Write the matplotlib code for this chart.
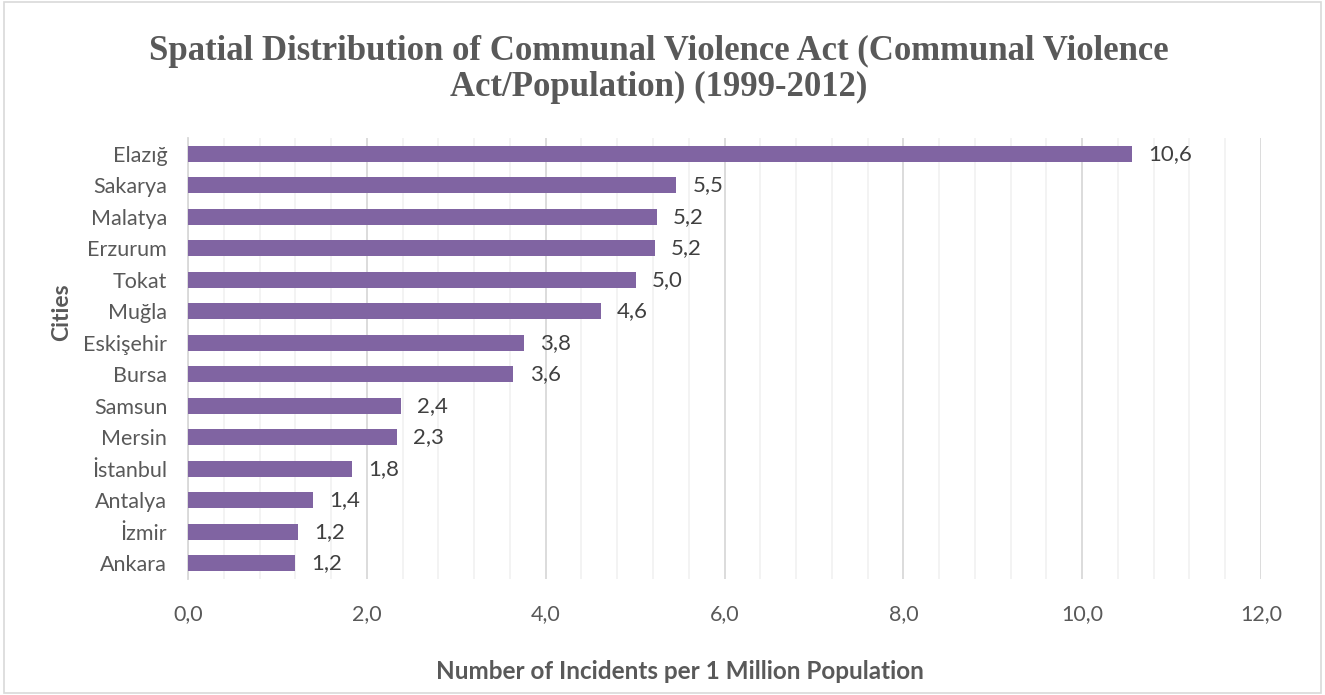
import matplotlib.pyplot as plt
from matplotlib.patches import Rectangle
from matplotlib.ticker import MultipleLocator, FuncFormatter

cities = ['Elazığ', 'Sakarya', 'Malatya', 'Erzurum', 'Tokat', 'Muğla', 'Eskişehir',
          'Bursa', 'Samsun', 'Mersin', 'İstanbul', 'Antalya', 'İzmir', 'Ankara']
values = [10.56, 5.46, 5.24, 5.22, 5.01, 4.62, 3.76, 3.64, 2.38, 2.34, 1.83, 1.40, 1.23, 1.20]

bar_color = '#8064A2'
text_gray = '#595959'
font = ['Lato', 'DejaVu Sans']

fig = plt.figure(figsize=(13.25, 6.95), dpi=100)
ax = fig.add_axes([0.1419, 0.1669, 0.8098, 0.6345])

# outer chart border
fig.patches.append(Rectangle((0.003, 0.003), 0.994, 0.994, transform=fig.transFigure,
                             fill=False, edgecolor='#D9D9D9', linewidth=1.2))

ypos = list(range(len(cities)))
ax.barh(ypos, values, height=0.5, color=bar_color, zorder=3)
ax.set_ylim(len(cities) - 0.5, -0.5)
ax.set_xlim(0, 12)

for y, v in zip(ypos, values):
    ax.text(v + 0.18, y, f'{v:.1f}'.replace('.', ','), va='center', ha='left',
            fontsize=16, color='#404040', family=font)

ax.set_yticks(ypos)
ax.set_yticklabels(cities, family=font, fontsize=15.5, color=text_gray)
ax.xaxis.set_major_locator(MultipleLocator(2))
ax.xaxis.set_minor_locator(MultipleLocator(0.4))
ax.xaxis.set_major_formatter(FuncFormatter(lambda x, p: f'{x:.1f}'.replace('.', ',')))
for lbl in ax.get_xticklabels():
    lbl.set_family(font)
    lbl.set_fontsize(15.5)
    lbl.set_color(text_gray)
ax.tick_params(axis='both', length=0)
ax.tick_params(axis='x', which='both', length=0, pad=18)
ax.tick_params(axis='y', pad=15)

ax.grid(axis='x', which='major', color='#D9D9D9', linewidth=1.3, zorder=0)
ax.grid(axis='x', which='minor', color='#F2F2F2', linewidth=1.3, zorder=0)
ax.grid(axis='y', visible=False)

for s in ['top', 'right', 'bottom']:
    ax.spines[s].set_visible(False)
ax.spines['left'].set_color('#D9D9D9')
ax.spines['left'].set_linewidth(1.3)

ax.set_xlabel('Number of Incidents per 1 Million Population', family=font, fontsize=17.5,
              fontweight='bold', color=text_gray)
ax.xaxis.set_label_coords(0.458, -0.184)
ax.set_ylabel('Cities', family=font, fontsize=16.5, fontweight='bold', color=text_gray)
ax.yaxis.set_label_coords(-0.108, 0.605)

fig.text(0.497, 0.9, 'Spatial Distribution of Communal Violence Act (Communal Violence\n'
         'Act/Population) (1999-2012)', ha='center', va='center',
         family=['Liberation Serif', 'DejaVu Serif'], fontsize=25, fontweight='bold',
         color=text_gray, linespacing=1.1)

fig.savefig('out.png', dpi=100)
